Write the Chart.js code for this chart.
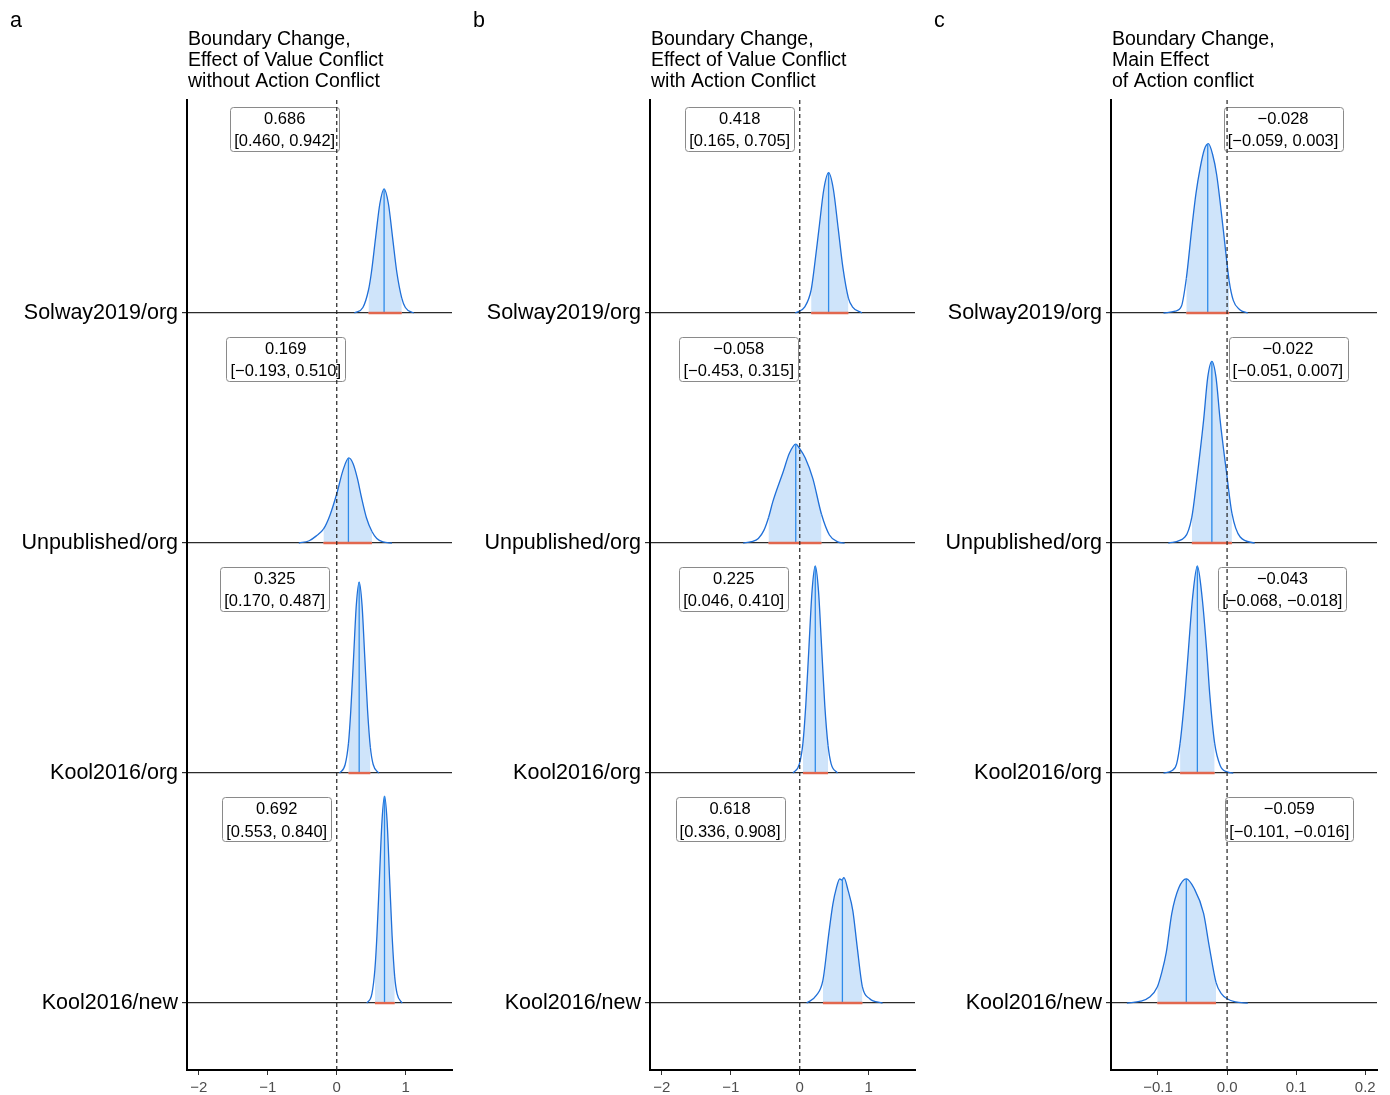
<!DOCTYPE html>
<html>
<head>
<meta charset="utf-8">
<script src="https://cdn.jsdelivr.net/npm/chart.js@4.4.1/dist/chart.umd.min.js"></script>
<style>
  body { margin: 0; background: #fff; }
  #wrap { position: relative; width: 1390px; height: 1095px; background: #fff; }
  canvas { position: absolute; top: 0; }
</style>
</head>
<body>
<div id="wrap">
  <canvas id="panelA" width="463" height="1095" style="left:0px"></canvas>
  <canvas id="panelB" width="463" height="1095" style="left:463px"></canvas>
  <canvas id="panelC" width="466" height="1095" style="left:924px"></canvas>
</div>
<script>
// rows, top to bottom
const rowLabels = ['Solway2019/org', 'Unpublished/org', 'Kool2016/org', 'Kool2016/new'];
const rowLevels = [4, 3, 2, 1];

const titleA = ['Boundary Change,', 'Effect of Value Conflict', 'without Action Conflict'];
const titleB = ['Boundary Change,', 'Effect of Value Conflict', 'with Action Conflict'];
const titleC = ['Boundary Change,', 'Main Effect', 'of Action conflict'];

const xTicksAB = [-2, -1, 0, 1];
const xTicksC = [-0.1, 0, 0.1, 0.2];

// panel a
const medianA = [0.686, 0.169, 0.325, 0.692];
const lowerA = [0.460, -0.193, 0.170, 0.553];
const upperA = [0.942, 0.510, 0.487, 0.840];
const medianHeightA = [0.54, 0.37, 0.83, 0.90];
const densityA = [
  [[0.256,0],[0.379,0.024],[0.460,0.10],[0.502,0.176],[0.563,0.328],[0.625,0.476],[0.686,0.54],[0.748,0.476],[0.809,0.328],[0.871,0.176],[0.942,0.065],[0.994,0.024],[1.117,0]],
  [[-0.55,0],[-0.40,0.01],[-0.30,0.03],[-0.193,0.06],[-0.10,0.12],[0.0,0.214],[0.09,0.316],[0.174,0.37],[0.237,0.345],[0.30,0.28],[0.357,0.2],[0.43,0.11],[0.510,0.05],[0.58,0.02],[0.67,0.005],[0.80,0]],
  [[0.041,0],[0.122,0.037],[0.170,0.13],[0.203,0.27],[0.244,0.504],[0.284,0.732],[0.325,0.83],[0.366,0.732],[0.406,0.504],[0.447,0.27],[0.487,0.112],[0.528,0.037],[0.609,0]],
  [[0.436,0],[0.509,0.04],[0.553,0.148],[0.582,0.293],[0.619,0.546],[0.656,0.794],[0.692,0.90],[0.729,0.794],[0.765,0.546],[0.802,0.293],[0.840,0.114],[0.875,0.04],[0.948,0]]
];

// panel b
const medianB = [0.418, -0.058, 0.225, 0.618];
const lowerB = [0.165, -0.453, 0.046, 0.336];
const upperB = [0.705, 0.315, 0.410, 0.908];
const medianHeightB = [0.61, 0.43, 0.90, 0.54];
const densityB = [
  [[-0.065,0],[0.073,0.027],[0.165,0.10],[0.211,0.198],[0.280,0.37],[0.349,0.538],[0.418,0.61],[0.487,0.538],[0.556,0.37],[0.625,0.198],[0.705,0.065],[0.763,0.027],[0.901,0]],
  [[-0.82,0],[-0.70,0.006],[-0.60,0.02],[-0.52,0.055],[-0.453,0.11],[-0.39,0.18],[-0.24,0.31],[-0.15,0.39],[-0.058,0.43],[0.0,0.41],[0.08,0.37],[0.19,0.28],[0.315,0.125],[0.43,0.035],[0.55,0.005],[0.65,0]],
  [[-0.097,0],[-0.005,0.04],[0.046,0.13],[0.087,0.293],[0.133,0.546],[0.179,0.794],[0.225,0.90],[0.271,0.794],[0.317,0.546],[0.363,0.293],[0.410,0.12],[0.455,0.04],[0.547,0]],
  [[0.10,0],[0.24,0.033],[0.336,0.10],[0.42,0.30],[0.48,0.43],[0.53,0.50],[0.58,0.54],[0.61,0.535],[0.64,0.545],[0.70,0.49],[0.77,0.40],[0.83,0.25],[0.908,0.07],[1.01,0.02],[1.2,0]]
];

// panel c
const medianC = [-0.028, -0.022, -0.043, -0.059];
const lowerC = [-0.059, -0.051, -0.068, -0.101];
const upperC = [0.003, 0.007, -0.018, -0.016];
const medianHeightC = [0.736, 0.79, 0.90, 0.54];
const densityC = [
  [[-0.092,0],[-0.075,0.008],[-0.066,0.03],[-0.059,0.15],[-0.051,0.37],[-0.045,0.52],[-0.039,0.63],[-0.033,0.71],[-0.027,0.736],[-0.021,0.69],[-0.015,0.60],[-0.0054,0.36],[0.003,0.14],[0.009,0.055],[0.018,0.015],[0.03,0]],
  [[-0.085,0],[-0.061,0.026],[-0.051,0.113],[-0.044,0.272],[-0.034,0.533],[-0.028,0.72],[-0.022,0.79],[-0.016,0.72],[-0.010,0.533],[-0.0005,0.30],[0.007,0.13],[0.019,0.026],[0.04,0]],
  [[-0.092,0],[-0.080,0.01],[-0.073,0.04],[-0.068,0.13],[-0.061,0.34],[-0.056,0.533],[-0.050,0.76],[-0.043,0.90],[-0.036,0.76],[-0.0295,0.533],[-0.025,0.34],[-0.018,0.13],[-0.010,0.033],[0.000,0.005],[0.009,0]],
  [[-0.145,0],[-0.125,0.008],[-0.112,0.026],[-0.101,0.07],[-0.095,0.128],[-0.088,0.22],[-0.080,0.39],[-0.070,0.50],[-0.059,0.54],[-0.048,0.50],[-0.034,0.39],[-0.026,0.25],[-0.016,0.09],[-0.008,0.04],[0.0,0.019],[0.012,0.005],[0.03,0]]
];

// where the number boxes sit (x centre in data units)
const labelXA = [-0.754, -0.739, -0.899, -0.870];
const labelXB = [-0.87, -0.884, -0.957, -1.01];
const labelXC = [0.081, 0.088, 0.080, 0.090];

const FONT = '"Liberation Sans", Arial, Helvetica, sans-serif';
const CURVE = '#1f6fd8';
const SHADE = '#cfe4fa';
const MEDIAN = '#2e8bea';
const RED = '#e2674e';
const Y_MIN = 0.709, Y_MAX = 4.926;
const LABEL_OFFSET = 0.896;

function fmt(v) {
  return (v < 0 ? '\u2212' : '') + Math.abs(v).toFixed(3);
}

function buildDatasets(p) {
  const layers = [];
  p.median.forEach(function (m, i) {
    const base = rowLevels[i];
    const lo = p.lower[i], hi = p.upper[i];
    layers.push({
      data: p.density[i].map(d => ({x: d[0], y: base + d[1]})),
      borderColor: CURVE,
      borderWidth: 1.3,
      backgroundColor: 'rgba(0,0,0,0)',
      fill: {value: base},
      cubicInterpolationMode: 'monotone',
      segment: {
        backgroundColor: c => (c.p0.parsed.x >= lo - 1e-9 && c.p1.parsed.x <= hi + 1e-9) ? SHADE : 'rgba(0,0,0,0)'
      }
    });
    layers.push({
      data: [{x: m, y: base}, {x: m, y: base + p.medianHeight[i]}],
      borderColor: MEDIAN, borderWidth: 1.3
    });
    layers.push({
      data: [{x: lo, y: base}, {x: hi, y: base}],
      borderColor: RED, borderWidth: 2.4
    });
  });
  layers.push({
    data: [{x: 0, y: Y_MIN}, {x: 0, y: Y_MAX}],
    borderColor: '#222', borderWidth: 1.2, borderDash: [4, 3]
  });
  const n = layers.length;
  // earlier layers go underneath
  return layers.map((ds, i) => Object.assign({pointRadius: 0, tension: 0, fill: false, order: n - i}, ds));
}

function labelPlugin(p) {
  return {
    id: 'labelBoxes',
    beforeDatasetsDraw(chart) {
      const ctx = chart.ctx, xs = chart.scales.x, ys = chart.scales.y;
      ctx.save();
      ctx.font = '16.5px ' + FONT;
      p.median.forEach(function (m, i) {
        const l1 = fmt(m);
        const l2 = '[' + fmt(p.lower[i]) + ', ' + fmt(p.upper[i]) + ']';
        const w = Math.max(ctx.measureText(l1).width, ctx.measureText(l2).width) + 8;
        const cx = xs.getPixelForValue(p.labelX[i]);
        const top = ys.getPixelForValue(rowLevels[i] + LABEL_OFFSET);
        ctx.beginPath();
        ctx.roundRect(Math.round(cx - w / 2) + 0.5, Math.round(top) + 0.5, Math.round(w), 44, 3);
        ctx.fillStyle = '#fff';
        ctx.fill();
        ctx.strokeStyle = '#8a8a8a';
        ctx.lineWidth = 1;
        ctx.stroke();
        ctx.fillStyle = '#000';
        ctx.textAlign = 'center';
        ctx.textBaseline = 'middle';
        ctx.fillText(l1, cx, top + 12.5);
        ctx.fillText(l2, cx, top + 35);
      });
      ctx.restore();
    }
  };
}

function titlePlugin(letter, lines) {
  return {
    id: 'panelTitle',
    afterDraw(chart) {
      const ctx = chart.ctx, left = chart.chartArea.left;
      ctx.save();
      ctx.fillStyle = '#000';
      ctx.textBaseline = 'middle';
      ctx.textAlign = 'left';
      ctx.font = '21.5px ' + FONT;
      ctx.fillText(letter, 10, 21);
      ctx.font = '19.5px ' + FONT;
      lines.forEach((t, i) => ctx.fillText(t, left + 1, 39.5 + i * 21));
      ctx.restore();
    }
  };
}

function makePanel(id, p) {
  new Chart(document.getElementById(id), {
    type: 'line',
    data: {datasets: buildDatasets(p)},
    options: {
      responsive: false,
      animation: false,
      events: [],
      layout: {padding: {top: 100, right: p.padRight, bottom: 0, left: 0}},
      plugins: {legend: {display: false}, tooltip: {enabled: false}},
      scales: {
        x: {
          type: 'linear',
          min: p.xMin,
          max: p.xMax,
          afterBuildTicks: s => { s.ticks = p.xTicks.map(v => ({value: v})); },
          afterFit: s => { s.height = 25; },
          ticks: {
            callback: v => p.xFormat(v),
            color: '#4d4d4d',
            font: {family: FONT, size: 15},
            padding: 4,
            maxRotation: 0,
            autoSkip: false
          },
          grid: {drawOnChartArea: false, drawTicks: true, tickLength: 5, color: '#333', lineWidth: 1},
          border: {display: true, color: '#000', width: 2}
        },
        y: {
          type: 'linear',
          min: Y_MIN,
          max: Y_MAX,
          afterBuildTicks: s => { s.ticks = rowLevels.map(v => ({value: v})); },
          afterFit: s => { s.width = 187; },
          ticks: {
            callback: v => rowLabels[rowLevels.indexOf(v)],
            color: '#000',
            font: {family: FONT, size: 21.5},
            padding: 4,
            autoSkip: false
          },
          grid: {color: '#2b2b2b', lineWidth: 1.2, tickLength: 5, drawTicks: true},
          border: {display: true, color: '#000', width: 2}
        }
      }
    },
    plugins: [labelPlugin(p), titlePlugin(p.letter, p.title)]
  });
}

const fmtInt = v => (v < 0 ? '\u2212' : '') + Math.abs(v);
const fmtOne = v => (v < 0 ? '\u2212' : '') + Math.abs(v).toFixed(1);

makePanel('panelA', {
  letter: 'a', title: titleA, median: medianA, lower: lowerA, upper: upperA,
  medianHeight: medianHeightA, density: densityA, labelX: labelXA,
  xMin: -2.17, xMax: 1.67, xTicks: xTicksAB, xFormat: fmtInt, padRight: 11
});
makePanel('panelB', {
  letter: 'b', title: titleB, median: medianB, lower: lowerB, upper: upperB,
  medianHeight: medianHeightB, density: densityB, labelX: labelXB,
  xMin: -2.17, xMax: 1.67, xTicks: xTicksAB, xFormat: fmtInt, padRight: 11
});
makePanel('panelC', {
  letter: 'c', title: titleC, median: medianC, lower: lowerC, upper: upperC,
  medianHeight: medianHeightC, density: densityC, labelX: labelXC,
  xMin: -0.168, xMax: 0.217, xTicks: xTicksC, xFormat: fmtOne, padRight: 13
});
</script>
</body>
</html>
